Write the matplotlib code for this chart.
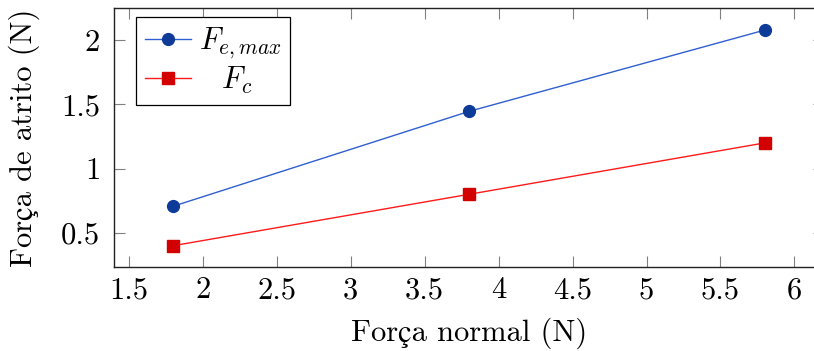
import matplotlib
matplotlib.use("Agg")
import matplotlib.pyplot as plt

# Friction force measured against the normal force
normal_force = [1.8, 3.8, 5.8]
static_max = [0.707, 1.445, 2.078]
kinetic = [0.40, 0.80, 1.20]

x_ticks = [1.5, 2, 2.5, 3, 3.5, 4, 4.5, 5, 5.5, 6]
x_tick_labels = ["1.5", "2", "2.5", "3", "3.5", "4", "4.5", "5", "5.5", "6"]
y_ticks = [0.5, 1, 1.5, 2]
y_tick_labels = ["0.5", "1", "1.5", "2"]

plt.rcParams["font.family"] = ["cmr10", "STIXGeneral", "DejaVu Serif"]
plt.rcParams["mathtext.fontset"] = "cm"
plt.rcParams["axes.formatter.use_mathtext"] = True

W, H = 814, 351
fig = plt.figure(figsize=(W / 100, H / 100), dpi=100)
left, right, top, bottom = 114, 824, 8.2, 267.3
ax = fig.add_axes([left / W, 1 - bottom / H, (right - left) / W, (bottom - top) / H])

ax.plot(normal_force, static_max, color="#2f5fd0", lw=1.0, marker="o",
        markersize=8.5, markerfacecolor="#0f3b98", markeredgecolor="#0f3b98",
        label=r"$F_{e,max}$")
ax.plot(normal_force, kinetic, color="#ff1a1a", lw=1.0, marker="s",
        markersize=8, markerfacecolor="#d20000", markeredgecolor="#d20000",
        label=r"$\;\;\;F_c$")

ax.set_xlim(1.4, 6.2)
ax.set_ylim(0.232, 2.248)
ax.set_xticks(x_ticks)
ax.set_xticklabels(x_tick_labels)
ax.set_yticks(y_ticks)
ax.set_yticklabels(y_tick_labels)

ax.tick_params(direction="in", length=8, width=0.8, color="#808080",
               top=True, right=True, labelsize=22)
ax.tick_params(axis="x", pad=7)
ax.tick_params(axis="y", pad=10)
for s in ax.spines.values():
    s.set_linewidth(1.0)
    s.set_color("#222222")

ax.set_xlabel("Força normal (N)", fontsize=22)
ax.set_ylabel("Força de atrito (N)", fontsize=22)
ax.xaxis.set_label_coords(0.5, -0.192)
ax.yaxis.set_label_coords(-0.149, 0.5)
ax.yaxis.label.set_verticalalignment("top")

leg = ax.legend(loc="upper left", fontsize=22, frameon=True, fancybox=False,
                edgecolor="black", framealpha=1, borderpad=0.3,
                borderaxespad=0, handlelength=1.5, handletextpad=0.25,
                labelspacing=0.1, bbox_to_anchor=(0.031, 0.966))
leg.get_frame().set_linewidth(0.9)

fig.savefig("out.png", dpi=100)
